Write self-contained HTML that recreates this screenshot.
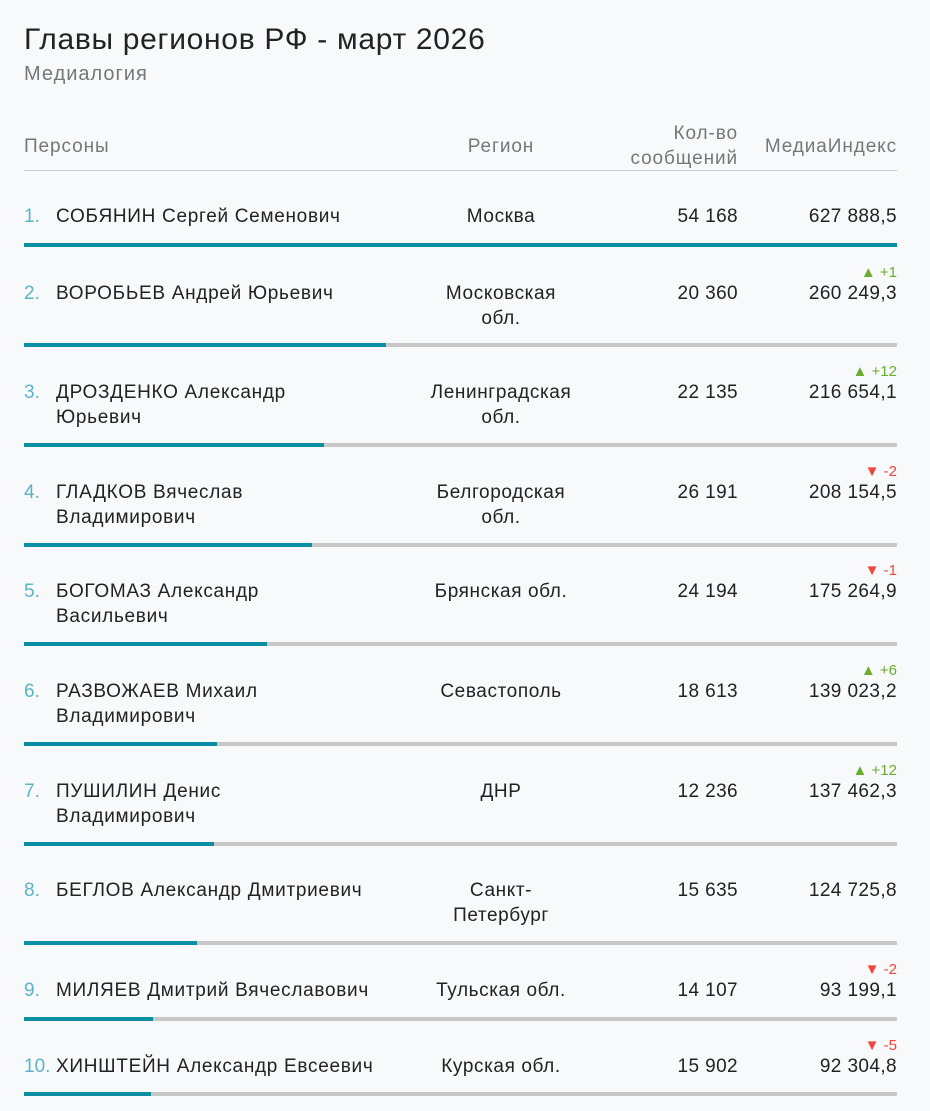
<!DOCTYPE html>
<html><head><meta charset="utf-8"><style>
body{margin:0;width:930px;height:1111px;background:#f8f9fa;font-family:"Liberation Sans",sans-serif;color:#222;position:relative;overflow:hidden}
.a{position:absolute;font-size:19px;line-height:25px;white-space:nowrap;letter-spacing:0.4px}
.n{left:24px;color:#5ab4c4;letter-spacing:0}
.nm{left:56px;letter-spacing:0.7px}
.rg{left:401px;width:200px;text-align:center;letter-spacing:0.6px}
.ct{right:192px;text-align:right}
.ix{right:33px;text-align:right}
.d{position:absolute;right:33px;font-size:15px;line-height:16px}
.up{color:#6aac2e}.dn{color:#f0463c}
.bar{position:absolute;left:24px;width:873px;height:4px;background:#c8c8c8}
.bar i{display:block;height:4px;background:#0b8ea3}
.h{position:absolute;font-size:19px;color:#777;line-height:25px;letter-spacing:0.9px}
</style></head><body>
<div style="position:absolute;left:24px;top:23px;font-size:30px;color:#222;letter-spacing:0.7px">Главы регионов РФ - март 2026</div>
<div style="position:absolute;left:24px;top:63px;font-size:20px;color:#777;letter-spacing:1px">Медиалогия</div>
<div class="h" style="left:24px;top:134px">Персоны</div>
<div class="h" style="left:401px;width:200px;text-align:center;top:134px">Регион</div>
<div class="h" style="right:192px;text-align:right;top:121px">Кол-во<br>сообщений</div>
<div class="h" style="right:33px;top:134px">МедиаИндекс</div>
<div style="position:absolute;left:24px;top:170px;width:873px;height:1px;background:#ccc"></div>

<div class="a n" style="top:204px">1.</div><div class="a nm" style="top:204px">СОБЯНИН Сергей Семенович</div><div class="a rg" style="top:204px">Москва</div><div class="a ct" style="top:204px">54 168</div><div class="a ix" style="top:204px">627 888,5</div>
<div class="bar" style="top:243px"><i style="width:873px"></i></div>

<div class="a n" style="top:281px">2.</div><div class="a nm" style="top:281px">ВОРОБЬЕВ Андрей Юрьевич</div><div class="a rg" style="top:281px">Московская<br>обл.</div><div class="a ct" style="top:281px">20 360</div><div class="a ix" style="top:281px">260 249,3</div><div class="d up" style="top:265px">▲ +1</div>
<div class="bar" style="top:343px"><i style="width:362px"></i></div>

<div class="a n" style="top:380px">3.</div><div class="a nm" style="top:380px">ДРОЗДЕНКО Александр<br>Юрьевич</div><div class="a rg" style="top:380px">Ленинградская<br>обл.</div><div class="a ct" style="top:380px">22 135</div><div class="a ix" style="top:380px">216 654,1</div><div class="d up" style="top:364px">▲ +12</div>
<div class="bar" style="top:443px"><i style="width:300px"></i></div>

<div class="a n" style="top:480px">4.</div><div class="a nm" style="top:480px">ГЛАДКОВ Вячеслав<br>Владимирович</div><div class="a rg" style="top:480px">Белгородская<br>обл.</div><div class="a ct" style="top:480px">26 191</div><div class="a ix" style="top:480px">208 154,5</div><div class="d dn" style="top:464px">▼ -2</div>
<div class="bar" style="top:543px"><i style="width:288px"></i></div>

<div class="a n" style="top:579px">5.</div><div class="a nm" style="top:579px">БОГОМАЗ Александр<br>Васильевич</div><div class="a rg" style="top:579px">Брянская обл.</div><div class="a ct" style="top:579px">24 194</div><div class="a ix" style="top:579px">175 264,9</div><div class="d dn" style="top:563px">▼ -1</div>
<div class="bar" style="top:642px"><i style="width:243px"></i></div>

<div class="a n" style="top:679px">6.</div><div class="a nm" style="top:679px">РАЗВОЖАЕВ Михаил<br>Владимирович</div><div class="a rg" style="top:679px">Севастополь</div><div class="a ct" style="top:679px">18 613</div><div class="a ix" style="top:679px">139 023,2</div><div class="d up" style="top:663px">▲ +6</div>
<div class="bar" style="top:742px"><i style="width:193px"></i></div>

<div class="a n" style="top:779px">7.</div><div class="a nm" style="top:779px">ПУШИЛИН Денис<br>Владимирович</div><div class="a rg" style="top:779px">ДНР</div><div class="a ct" style="top:779px">12 236</div><div class="a ix" style="top:779px">137 462,3</div><div class="d up" style="top:763px">▲ +12</div>
<div class="bar" style="top:842px"><i style="width:190px"></i></div>

<div class="a n" style="top:878px">8.</div><div class="a nm" style="top:878px">БЕГЛОВ Александр Дмитриевич</div><div class="a rg" style="top:878px">Санкт-<br>Петербург</div><div class="a ct" style="top:878px">15 635</div><div class="a ix" style="top:878px">124 725,8</div>
<div class="bar" style="top:941px"><i style="width:173px"></i></div>

<div class="a n" style="top:978px">9.</div><div class="a nm" style="top:978px">МИЛЯЕВ Дмитрий Вячеславович</div><div class="a rg" style="top:978px">Тульская обл.</div><div class="a ct" style="top:978px">14 107</div><div class="a ix" style="top:978px">93 199,1</div><div class="d dn" style="top:962px">▼ -2</div>
<div class="bar" style="top:1017px"><i style="width:129px"></i></div>

<div class="a n" style="top:1054px">10.</div><div class="a nm" style="top:1054px">ХИНШТЕЙН Александр Евсеевич</div><div class="a rg" style="top:1054px">Курская обл.</div><div class="a ct" style="top:1054px">15 902</div><div class="a ix" style="top:1054px">92 304,8</div><div class="d dn" style="top:1038px">▼ -5</div>
<div class="bar" style="top:1092px"><i style="width:127px"></i></div>
</body></html>
